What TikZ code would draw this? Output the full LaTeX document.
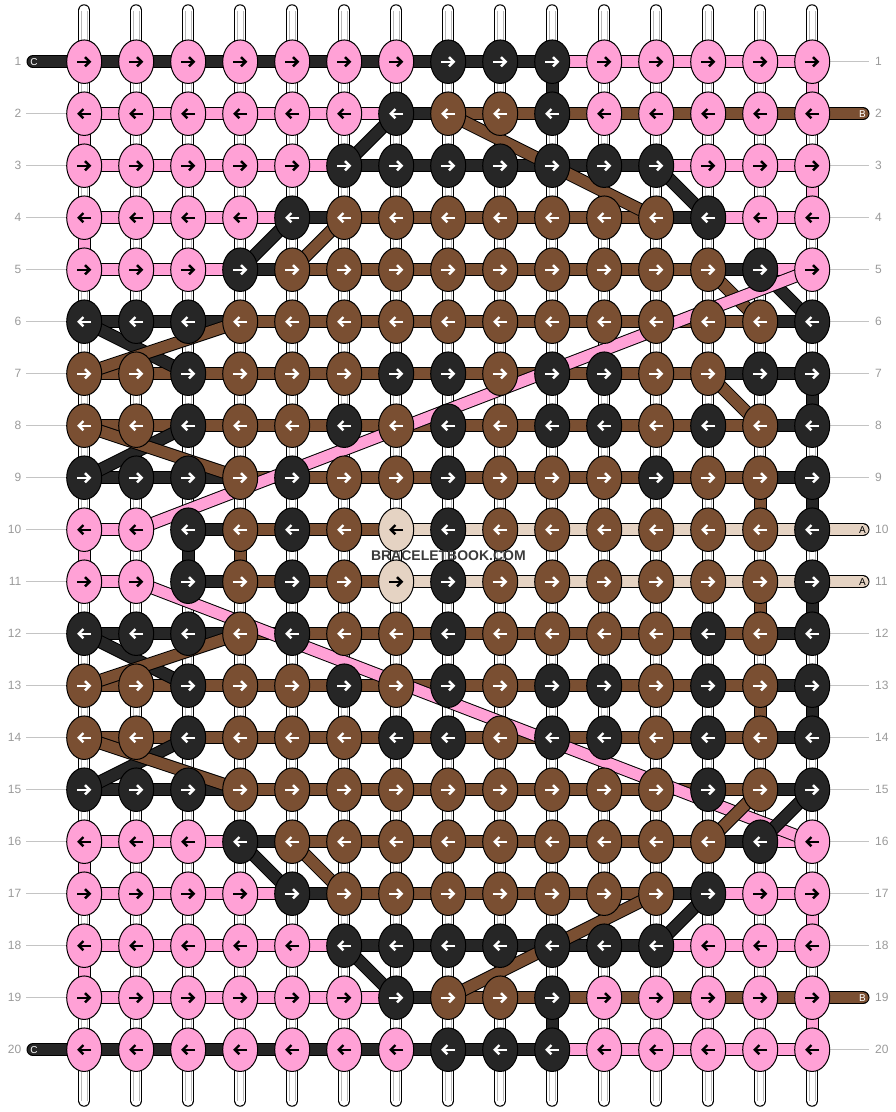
\documentclass[tikz,border=0pt]{standalone}
\usepackage{fontspec}
\setmainfont{Liberation Sans}
\usetikzlibrary{shapes.geometric}
\pgfdeclarelayer{warp}
\pgfdeclarelayer{bars}
\pgfdeclarelayer{diag}
\pgfsetlayers{warp,bars,diag,main}
\definecolor{cP}{HTML}{FFA1D6}
\definecolor{cB}{HTML}{7A4F32}
\definecolor{cD}{HTML}{262626}
\definecolor{cE}{HTML}{E5D3C3}
\colorlet{aP}{black}
\colorlet{aB}{white}
\colorlet{aD}{white}
\colorlet{aE}{black}
\definecolor{lblgray}{HTML}{9A9A9A}
\definecolor{linegray}{HTML}{C4C4C4}
\definecolor{warpgray}{HTML}{B8B8B8}
\definecolor{wmgray}{HTML}{3A3A3A}
\tikzset{
  knot/.style={ellipse, draw=black, line width=1pt, minimum width=35pt, minimum height=43.5pt, inner sep=0pt, outer sep=0pt},
  bar/.style={draw=black, line width=1pt, double distance=11pt},
  knotarrow/.style={line width=2.4pt, line join=miter},
  numlbl/.style={text=lblgray, font=\fontsize{12pt}{12pt}\selectfont, inner sep=0pt},
  lblline/.style={draw=linegray, line width=1pt},
  edgelbl/.style={font=\fontsize{10pt}{10pt}\selectfont, inner sep=0pt},
  warpout/.style={draw=black, line width=12.5pt, line cap=round},
  warpin/.style={draw=white, line width=10.5pt, line cap=round},
  warpcore/.style={draw=warpgray, line width=0.7pt},
  watermark/.style={font=\bfseries\fontsize{14pt}{14pt}\selectfont, text=wmgray, inner sep=0pt}
}
\begin{document}
\begin{tikzpicture}[x=1pt,y=-1pt]
\useasboundingbox (0,0) rectangle (896,1112);
% knots
\foreach \r/\row in {
 1/{P,P,P,P,P,P,P,D,D,D,P,P,P,P,P},
 2/{P,P,P,P,P,P,D,B,B,D,P,P,P,P,P},
 3/{P,P,P,P,P,D,D,D,D,D,D,D,P,P,P},
 4/{P,P,P,P,D,B,B,B,B,B,B,B,D,P,P},
 5/{P,P,P,D,B,B,B,B,B,B,B,B,B,D,P},
 6/{D,D,D,B,B,B,B,B,B,B,B,B,B,B,D},
 7/{B,B,D,B,B,B,D,D,B,D,D,B,B,D,D},
 8/{B,B,D,B,B,D,B,D,B,D,D,B,D,B,D},
 9/{D,D,D,B,D,B,B,D,B,B,B,D,B,B,D},
 10/{P,P,D,B,D,B,E,D,B,B,B,B,B,B,D},
 11/{P,P,D,B,D,B,E,D,B,B,B,B,B,B,D},
 12/{D,D,D,B,D,B,B,D,B,B,B,B,D,B,D},
 13/{B,B,D,B,B,D,B,D,B,D,D,B,D,B,D},
 14/{B,B,D,B,B,B,D,D,B,D,D,B,D,B,D},
 15/{D,D,D,B,B,B,B,B,B,B,B,B,D,B,D},
 16/{P,P,P,D,B,B,B,B,B,B,B,B,B,D,P},
 17/{P,P,P,P,D,B,B,B,B,B,B,B,D,P,P},
 18/{P,P,P,P,P,D,D,D,D,D,D,D,P,P,P},
 19/{P,P,P,P,P,P,D,B,B,D,P,P,P,P,P},
 20/{P,P,P,P,P,P,P,D,D,D,P,P,P,P,P}}{
  \pgfmathsetmacro\Y{61.7+52*(\r-1)}
  \pgfmathsetmacro\s{ifthenelse(mod(\r,2)==1,1,-1)}
  \foreach \c [count=\j] in \row {
    \pgfmathsetmacro\X{84.2+52*(\j-1)}
    \node[knot, fill=c\c] (k-\r-\j) at (\X,\Y) {};
    \draw[knotarrow, draw=a\c] ({\X-7*\s},\Y) -- ({\X+5*\s},\Y);
    \draw[knotarrow, draw=a\c] ({\X+0.8*\s},{\Y-4.6}) -- ({\X+5.4*\s},\Y) -- ({\X+0.8*\s},{\Y+4.6});
  }
}
% warp strands and row labels
\begin{pgfonlayer}{warp}
\foreach \j in {1,...,15}{
  \pgfmathsetmacro\X{84.2+52*(\j-1)}
  \coordinate (wt-\j) at (\X,10.5);
  \coordinate (wb-\j) at (\X,1100.5);
  \draw[warpout] (wt-\j) -- (wb-\j);
  \draw[warpin] (wt-\j) -- (wb-\j);
  \draw[warpcore] ([xshift=-3.2pt]wt-\j) -- ([xshift=-3.2pt]wb-\j);
  \draw[warpcore] ([xshift=3.2pt]wt-\j) -- ([xshift=3.2pt]wb-\j);
}
\foreach \r in {1,...,20}{
  \pgfmathsetmacro\Y{61.7+52*(\r-1)}
  \coordinate (ll-\r) at (26,\Y);
  \coordinate (rl-\r) at (869,\Y);
}
\foreach \r in {2,...,19}{
  \draw[lblline] (ll-\r) -- (k-\r-1.west);
}
\foreach \r in {1,3,4,5,6,7,8,9,12,13,14,15,16,17,18,20}{
  \draw[lblline] (k-\r-15.east) -- (rl-\r);
}
\end{pgfonlayer}
\foreach \r in {1,...,20}{
  \pgfmathsetmacro\Y{61.7+52*(\r-1)}
  \node[numlbl, anchor=east] (ln-\r) at (21.5,\Y) {\r};
  \node[numlbl, anchor=west] (rn-\r) at (875,\Y) {\r};
}
% horizontal bars
\begin{pgfonlayer}{bars}
\foreach \r/\row in {
 1/{D,D,D,D,D,D,D,D,D,P,P,P,P,P},
 2/{P,P,P,P,P,P,D,B,B,B,B,B,B,B},
 3/{P,P,P,P,P,D,D,D,D,D,D,P,P,P},
 4/{P,P,P,P,D,B,B,B,B,B,B,D,P,P},
 5/{P,P,P,D,B,B,B,B,B,B,B,B,D,P},
 6/{D,D,D,B,B,B,B,B,B,B,B,B,B,D},
 7/{B,B,B,B,B,B,B,B,B,B,B,B,D,D},
 8/{B,B,B,B,B,B,B,B,B,B,B,B,B,D},
 9/{D,D,D,B,B,B,B,B,B,B,B,B,B,D},
 10/{P,N,D,B,B,B,E,E,E,E,E,E,E,E},
 11/{P,N,D,B,B,B,E,E,E,E,E,E,E,E},
 12/{D,D,D,B,B,B,B,B,B,B,B,B,B,D},
 13/{B,B,B,B,B,B,B,B,B,B,B,B,B,D},
 14/{B,B,B,B,B,B,B,B,B,B,B,B,B,D},
 15/{D,D,D,B,B,B,B,B,B,B,B,B,B,D},
 16/{P,P,P,D,B,B,B,B,B,B,B,B,D,P},
 17/{P,P,P,P,D,B,B,B,B,B,B,D,P,P},
 18/{P,P,P,P,P,D,D,D,D,D,D,P,P,P},
 19/{P,P,P,P,P,P,D,B,B,B,B,B,B,B},
 20/{D,D,D,D,D,D,D,D,D,P,P,P,P,P}}{
  \foreach \c [count=\j] in \row {
    \if\c N\else
      \pgfmathtruncatemacro\jn{\j+1}
      \draw[bar, double=c\c] (k-\r-\j.center) -- (k-\r-\jn.center);
    \fi
  }
}
% vertical colored bars
\foreach \r/\j/\c in {1/10/D,1/15/P,2/1/P,3/15/P,4/1/P,7/15/D,9/14/B,9/15/D,
  10/1/P,10/3/D,10/4/B,11/14/B,11/15/D,13/14/B,13/15/D,16/1/P,17/15/P,18/1/P,19/10/D,19/15/P}{
  \pgfmathtruncatemacro\rn{\r+1}
  \draw[bar, double=c\c] (k-\r-\j.center) -- (k-\rn-\j.center);
}
% edge strands
\coordinate (eC1) at (33,61.7);
\coordinate (eC20) at (33,1049.7);
\coordinate (eB2) at (863,113.7);
\coordinate (eB19) at (863,997.7);
\coordinate (eA10) at (863,529.7);
\coordinate (eA11) at (863,581.7);
\draw[bar, double=cD, line cap=round] (eC1) -- (k-1-1.center);
\draw[bar, double=cD, line cap=round] (eC20) -- (k-20-1.center);
\draw[bar, double=cB, line cap=round] (eB2) -- (k-2-15.center);
\draw[bar, double=cB, line cap=round] (eB19) -- (k-19-15.center);
\draw[bar, double=cE, line cap=round] (eA10) -- (k-10-15.center);
\draw[bar, double=cE, line cap=round] (eA11) -- (k-11-15.center);
\end{pgfonlayer}
% diagonals
\begin{pgfonlayer}{diag}
\foreach \ra/\ca/\rb/\cb/\c in {3/6/2/7/D, 2/8/4/12/B, 3/12/4/13/D, 5/4/4/5/D, 5/5/4/6/B,
  5/14/6/15/D, 5/13/6/14/B, 5/15/10/2/P, 6/1/7/3/D, 7/1/6/4/B, 7/13/8/14/B, 9/1/8/3/D, 8/1/9/4/B,
  11/2/16/15/P, 12/1/13/3/D, 13/1/12/4/B, 15/1/14/3/D, 14/1/15/4/B, 16/13/15/14/B, 16/14/15/15/D,
  16/4/17/5/D, 16/5/17/6/B, 18/6/19/7/D, 19/8/17/12/B, 18/12/17/13/D}{
  \draw[bar, double=c\c] (k-\ra-\ca.center) -- (k-\rb-\cb.center);
}
\end{pgfonlayer}
% edge letters
\node[edgelbl, text=white] (lC1) at (34,61.7) {C};
\node[edgelbl, text=white] (lC20) at (34,1049.7) {C};
\node[edgelbl, text=white] (lB2) at (862.5,113.7) {B};
\node[edgelbl, text=white] (lB19) at (862.5,997.7) {B};
\node[edgelbl, text=black] (lA10) at (862.5,529.7) {A};
\node[edgelbl, text=black] (lA11) at (862.5,581.7) {A};
% watermark
\node[watermark] (wm) at (448.4,556) {BRACELETBOOK.COM};
\end{tikzpicture}
\end{document}
